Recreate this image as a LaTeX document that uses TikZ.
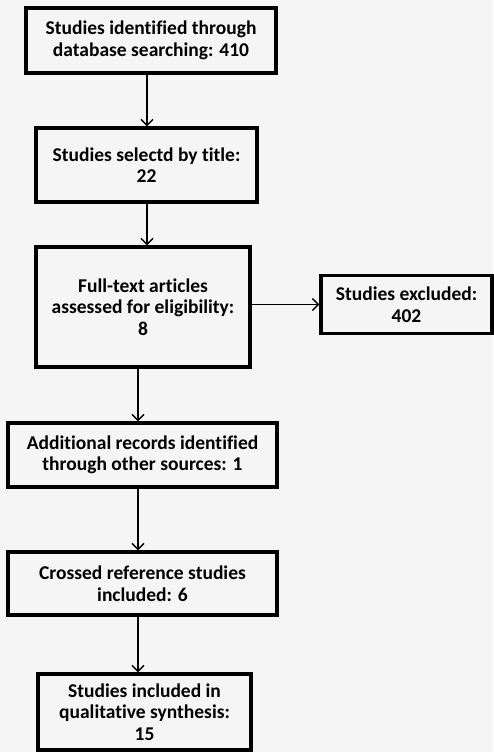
\documentclass[tikz,border=0pt]{standalone}
\usepackage{fontspec}
\setmainfont{Carlito}[Ligatures=NoCommon]
\usetikzlibrary{arrows.meta}
\tikzset{
  stagebox/.style={draw,line width=3.2pt,align=center,inner sep=2pt,
    font=\bfseries\fontsize{19.5}{21.5}\selectfont},
  flowarrow/.style={line width=1.4pt,-{Straight Barb[length=6pt,width=12pt,line width=1.4pt]}}
}
\begin{document}
\begin{tikzpicture}[x=1pt,y=-1pt]
        \fill[black!4] (0,0) rectangle (493,752);
        \useasboundingbox (0,0) rectangle (493,752);
        \node[stagebox,minimum width=250pt,minimum height=65pt] (ident) at (151,40.5) {Studies identified through\\database searching: 410};
        \node[stagebox,minimum width=221pt,minimum height=74pt] (title) at (146.5,165) {Studies selectd by title:\\22};
        \node[stagebox,minimum width=214pt,minimum height=120pt] (full) at (143,307) {Full-text articles\\assessed for eligibility:\\8};
        \node[stagebox,minimum width=171pt,minimum height=58pt] (excl) at (406.5,304.5) {Studies excluded:\\402};
        \node[stagebox,minimum width=269pt,minimum height=64pt] (addit) at (142.5,455) {Additional records identified\\through other sources: 1};
        \node[stagebox,minimum width=269pt,minimum height=63pt] (cross) at (142.5,583.5) {Crossed reference studies\\included: 6};
        \node[stagebox,minimum width=213pt,minimum height=76pt] (incl) at (144.5,712) {Studies included in\\qualitative synthesis:\\15};
        % arrows
        \coordinate (top) at (147,0);
        \coordinate (low) at (138,0);
        \draw[flowarrow] (ident.south -| top) -- (title.north -| top);
        \draw[flowarrow] (title.south -| top) -- (full.north -| top);
        \draw[flowarrow] (full.east |- excl) -- (excl.west);
        \draw[flowarrow] (full.south -| low) -- (addit.north -| low);
        \draw[flowarrow] (addit.south -| low) -- (cross.north -| low);
        \draw[flowarrow] (cross.south -| low) -- (incl.north -| low);
    \end{tikzpicture}
\end{document}
